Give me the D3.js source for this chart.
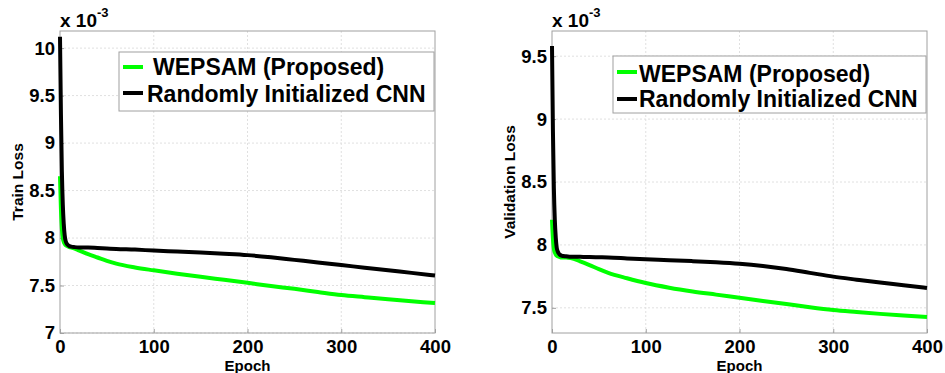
<!DOCTYPE html>
<html>
<head>
<meta charset="utf-8">
<script src="https://cdn.jsdelivr.net/npm/d3@7"></script>
<style>
  body { margin: 0; background: #fff; }
  svg { display: block; }
  svg text { font-family: "Liberation Sans", Arial, sans-serif; font-weight: bold; fill: #000; }
</style>
</head>
<body>
<div class="chart"></div>
<script>
// epochs sampled from the curves
const epochs = [0, 1, 2, 3, 4, 5, 6, 8, 10, 12, 15, 20, 30, 40, 50, 60, 80, 100, 125, 150, 175, 200, 225, 250, 275, 300, 325, 350, 375, 400];

// train loss (x 1e-3)
const trainWepsam = [8.65, 8.3, 8.1, 8.0, 7.96, 7.94, 7.925, 7.915, 7.905, 7.9, 7.89, 7.87, 7.83, 7.795, 7.76, 7.73, 7.69, 7.66, 7.625, 7.592, 7.56, 7.528, 7.495, 7.465, 7.432, 7.40, 7.377, 7.355, 7.335, 7.315];
const trainRandom = [10.12, 9.3, 8.7, 8.35, 8.15, 8.03, 7.97, 7.93, 7.915, 7.91, 7.905, 7.9, 7.9, 7.895, 7.89, 7.885, 7.878, 7.868, 7.858, 7.848, 7.835, 7.82, 7.797, 7.77, 7.743, 7.715, 7.688, 7.66, 7.633, 7.605];

// validation loss (x 1e-3)
const valWepsam = [8.2, 8.05, 7.97, 7.94, 7.925, 7.915, 7.91, 7.905, 7.9, 7.9, 7.9, 7.895, 7.87, 7.84, 7.807, 7.778, 7.735, 7.697, 7.66, 7.63, 7.605, 7.58, 7.555, 7.53, 7.505, 7.483, 7.467, 7.452, 7.439, 7.427];
const valRandom = [9.58, 8.9, 8.45, 8.2, 8.06, 7.98, 7.95, 7.925, 7.915, 7.912, 7.91, 7.906, 7.905, 7.904, 7.902, 7.9, 7.893, 7.886, 7.879, 7.871, 7.862, 7.85, 7.832, 7.808, 7.778, 7.748, 7.724, 7.701, 7.68, 7.658];

const xTicks = [0, 100, 200, 300, 400];
const trainYTicks = [7, 7.5, 8, 8.5, 9, 9.5, 10];
const valYTicks = [7.5, 8, 8.5, 9, 9.5];
const legendLabels = ['WEPSAM (Proposed)', 'Randomly Initialized CNN'];
const seriesColors = ['#00ff00', '#000000'];

const width = 945, height = 373;
const svg = d3.select('.chart').append('svg').attr('width', width).attr('height', height);

function drawPanel(p) {
  const g = svg.append('g');
  const x = d3.scaleLinear().domain([0, 400]).range([p.left, p.right]);
  const y = d3.scaleLinear().domain(p.yDomain).range([p.bottom, p.top]);

  // dotted grid
  g.append('g').selectAll('line').data(xTicks.slice(1, -1)).enter().append('line')
    .attr('x1', d => x(d)).attr('x2', d => x(d)).attr('y1', p.top).attr('y2', p.bottom)
    .attr('stroke', '#e0e0e0').attr('stroke-dasharray', '2,2');
  g.append('g').selectAll('line').data(p.yTicks).enter().append('line')
    .attr('x1', p.left).attr('x2', p.right).attr('y1', d => y(d)).attr('y2', d => y(d))
    .attr('stroke', '#e0e0e0').attr('stroke-dasharray', '2,2');

  g.append('rect').attr('x', p.left).attr('y', p.top)
    .attr('width', p.right - p.left).attr('height', p.bottom - p.top)
    .attr('fill', 'none').attr('stroke', '#a0a0a0');

  // axes, ticks pointing inward like matlab
  const xAxis = d3.axisBottom(x).tickValues(xTicks).tickSize(-4).tickPadding(7).tickFormat(d3.format('d'));
  const gx = g.append('g').attr('transform', 'translate(0,' + p.bottom + ')').call(xAxis);
  const yAxis = d3.axisLeft(y).tickValues(p.yTicks).tickSize(-4).tickPadding(5).tickFormat(d => String(d));
  const gy = g.append('g').attr('transform', 'translate(' + p.left + ',0)').call(yAxis);
  [gx, gy].forEach(a => {
    a.attr('font-family', null).attr('font-size', null);
    a.select('.domain').remove();
    a.selectAll('line').attr('stroke', '#a0a0a0');
    a.selectAll('text').style('font-size', '18.5px').style('font-weight', 'bold');
  });

  const line = d3.line().x((d, i) => x(epochs[i])).y(d => y(d)).curve(d3.curveMonotoneX);
  [p.green, p.black].forEach((s, i) => {
    g.append('path').datum(s).attr('fill', 'none')
      .attr('stroke', seriesColors[i]).attr('stroke-width', 4)
      .attr('stroke-linejoin', 'round').attr('d', line);
  });

  // exponent label
  const ex = g.append('text').attr('x', p.left).attr('y', 27).style('font-size', '19px');
  ex.append('tspan').text('x 10');
  ex.append('tspan').attr('dy', -10).style('font-size', '13px').text('-3');

  g.append('text').attr('x', (p.left + p.right) / 2).attr('y', 371)
    .attr('text-anchor', 'middle').style('font-size', '15px').text('Epoch');
  g.append('text').attr('transform', 'translate(' + p.yLabelX + ',' + ((p.top + p.bottom) / 2) + ') rotate(-90)')
    .attr('text-anchor', 'middle').style('font-size', '15.5px').text(p.yLabel);

  // legend
  const L = p.legend;
  g.append('rect').attr('x', L.x).attr('y', L.y).attr('width', L.w).attr('height', L.h)
    .attr('fill', '#fff').attr('stroke', '#a0a0a0');
  legendLabels.forEach((t, i) => {
    g.append('line').attr('x1', L.x + 4).attr('x2', L.x + 24).attr('y1', L.lineY[i]).attr('y2', L.lineY[i])
      .attr('stroke', seriesColors[i]).attr('stroke-width', 4);
    g.append('text').attr('x', L.x + L.textDx[i]).attr('y', L.baseY[i]).style('font-size', '23px').text(t);
  });
}

drawPanel({
  left: 60, right: 435, top: 31, bottom: 333,
  yDomain: [7, 10.18], yTicks: trainYTicks,
  green: trainWepsam, black: trainRandom,
  yLabel: 'Train Loss', yLabelX: 23,
  legend: { x: 119, y: 52, w: 315, h: 59, textDx: [34, 28], lineY: [67, 93], baseY: [75, 102] }
});

drawPanel({
  left: 552, right: 927, top: 31, bottom: 333,
  yDomain: [7.3, 9.7], yTicks: valYTicks,
  green: valWepsam, black: valRandom,
  yLabel: 'Validation Loss', yLabelX: 515,
  legend: { x: 613, y: 56, w: 313, h: 57, textDx: [26, 26], lineY: [72, 99], baseY: [82, 107] }
});
</script>
</body>
</html>
